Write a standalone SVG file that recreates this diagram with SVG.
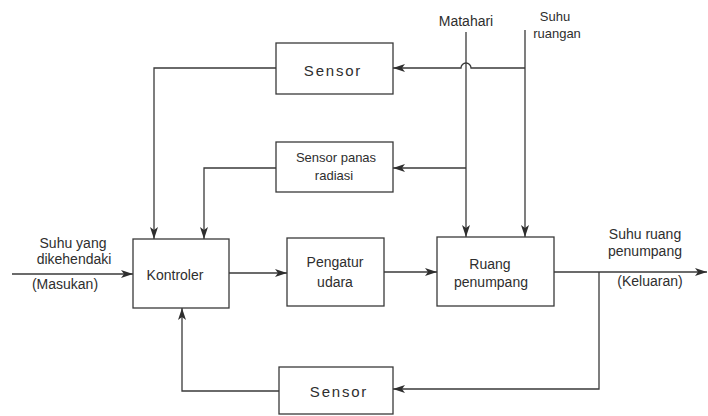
<svg xmlns="http://www.w3.org/2000/svg" width="708" height="416" viewBox="0 0 708 416">
<style>
.box{fill:#fff;stroke:#3a3a3a;stroke-width:1.3}
.ln{fill:none;stroke:#3a3a3a;stroke-width:1.3}
text{font-family:"Liberation Sans",Arial,sans-serif;font-size:14px;fill:#2e2e2e;text-anchor:middle}
.big{font-size:15px;letter-spacing:1.8px}
.sm{font-size:13px}
</style>
<defs>
<marker id="ah" viewBox="0 0 12 8" refX="12" refY="4" markerWidth="12" markerHeight="8" markerUnits="userSpaceOnUse" orient="auto">
<path d="M0,0 L12,4 L0,8 L3,4 Z" fill="#2e2e2e"/>
</marker>
</defs>
<rect width="708" height="416" fill="#fff"/>
<g id="connectors">
<path class="ln" d="M525,68 H471 A5,5 0 0 0 461,68 H393" marker-end="url(#ah)"/>
<path class="ln" d="M276,68 H154 V239" marker-end="url(#ah)"/>
<path class="ln" d="M466,168 H393" marker-end="url(#ah)"/>
<path class="ln" d="M276,168 H204 V239" marker-end="url(#ah)"/>
<path class="ln" d="M466,32 V237" marker-end="url(#ah)"/>
<path class="ln" d="M525,30 V237" marker-end="url(#ah)"/>
<path class="ln" d="M12,274 H133" marker-end="url(#ah)"/>
<path class="ln" d="M229,273 H287" marker-end="url(#ah)"/>
<path class="ln" d="M384,272 H437" marker-end="url(#ah)"/>
<path class="ln" d="M554,272 H707" marker-end="url(#ah)"/>
<path class="ln" d="M599,272 V389 H393" marker-end="url(#ah)"/>
<path class="ln" d="M279,391 H182 V308" marker-end="url(#ah)"/>
</g>
<g id="sensor-top">
<rect class="box" x="276" y="43" width="117" height="51"/>
<text class="big" x="333" y="76">Sensor</text>
</g>
<g id="sensor-radiasi">
<rect class="box" x="276" y="142" width="117" height="50"/>
<text class="sm" x="336" y="162">Sensor panas</text>
<text class="sm" x="334" y="180">radiasi</text>
</g>
<g id="kontroler">
<rect class="box" x="133" y="239" width="96" height="69"/>
<text x="175" y="280">Kontroler</text>
</g>
<g id="pengatur">
<rect class="box" x="287" y="238" width="97" height="68"/>
<text x="335" y="267">Pengatur</text>
<text x="335" y="287">udara</text>
</g>
<g id="ruang">
<rect class="box" x="437" y="237" width="117" height="69"/>
<text x="490" y="269">Ruang</text>
<text x="491" y="287">penumpang</text>
</g>
<g id="sensor-bottom">
<rect class="box" x="279" y="367" width="114" height="47"/>
<text class="big" x="339" y="397">Sensor</text>
</g>
<g id="labels">
<text x="466" y="26">Matahari</text>
<text class="sm" x="555" y="21">Suhu</text>
<text class="sm" x="557" y="38">ruangan</text>
<text x="73" y="248">Suhu yang</text>
<text x="74" y="264">dikehendaki</text>
<text x="65" y="289">(Masukan)</text>
<text x="645" y="239">Suhu ruang</text>
<text x="645" y="256">penumpang</text>
<text x="650" y="286">(Keluaran)</text>
</g>
</svg>
